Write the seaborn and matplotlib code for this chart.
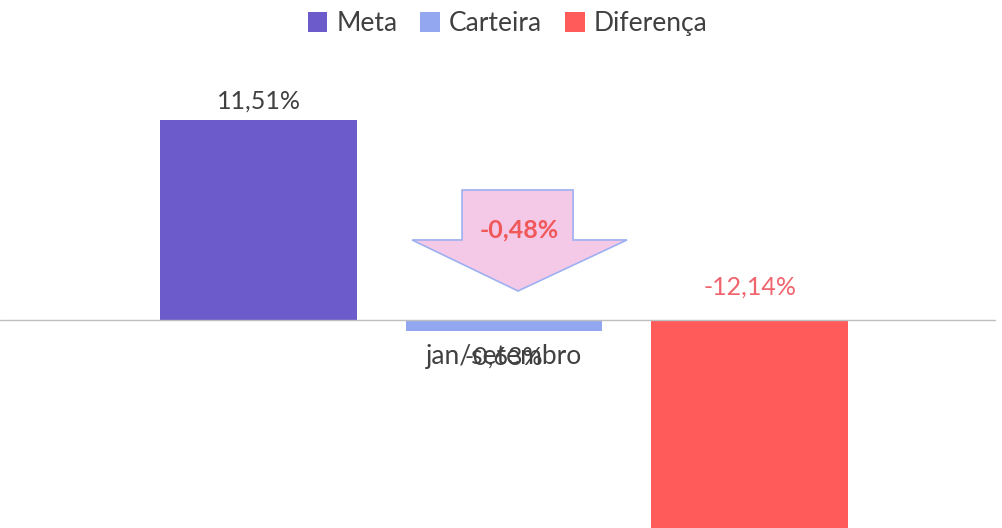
import matplotlib
matplotlib.use("Agg")
import matplotlib.pyplot as plt
import seaborn as sns
import pandas as pd
from matplotlib.patches import Polygon, Patch

# data
categories = ["jan/setembro"]
series = ["Meta", "Carteira", "Diferença"]
values = [11.51, -0.63, -12.14]
labels = ["11,51%", "-0,63%", "-12,14%"]
delta_label = "-0,48%"
colors = ["#6B5BCB", "#93A7F0", "#FF5B5B"]

df = pd.DataFrame({"periodo": categories * len(series), "serie": series, "valor": values})

sns.set_theme(style="white")
plt.rcParams["font.family"] = ["Lato", "DejaVu Sans"]

fig = plt.figure(figsize=(10.03, 5.28), dpi=100)
ax = fig.add_axes([0, 0, 1, 1])

sns.barplot(data=df, x="periodo", y="valor", hue="serie", hue_order=series,
            palette=colors, width=0.8, gap=0.198, ax=ax, legend=False,
            edgecolor="none", saturation=1)

ax.set_xlim(-0.5475, 0.542)
ax.set_ylim(-11.99, 18.44)
for s in ax.spines.values():
    s.set_visible(False)
ax.set_yticks([])
ax.set_xticks([])
ax.set_xlabel("")
ax.set_ylabel("")
ax.axhline(0, xmin=0, xmax=0.992, color="#BFBFBF", lw=1.0, zorder=1)

# category label
ax.text(0, -2.13, categories[0], ha="center", va="center", fontsize=19, color="#404040")

# bar labels
bars = [p for p in ax.patches if p.get_height() != 0]
bars = sorted(bars, key=lambda p: p.get_x())
txt_colors = ["#404040", "#404040", "#F0646E"]
for bar, lab, c, v in zip(bars, labels, txt_colors, values):
    cx = bar.get_x() + bar.get_width() / 2
    if v > 0:
        ax.text(cx, v + 1.1, lab, ha="center", va="center", fontsize=18, color=c)
    elif v < -5:
        ax.text(cx, 1.9, lab, ha="center", va="center", fontsize=18, color=c)
    else:
        ax.text(cx, v - 1.5, lab, ha="center", va="center", fontsize=18, color=c)

# block arrow annotation
arrow = Polygon([(-0.0456, 7.49), (0.0750, 7.49), (0.0750, 4.61), (0.1336, 4.61),
                 (0.0152, 1.67), (-0.0999, 4.61), (-0.0456, 4.61)],
                closed=True, facecolor="#F4C9E8", edgecolor="#9DB0F0", lw=1.2, zorder=3)
ax.add_patch(arrow)
ax.text(0.0163, 5.2, delta_label, ha="center", va="center", fontsize=18,
        fontweight="bold", color="#F0585A", zorder=4)

handles = [Patch(facecolor=c, edgecolor="none") for c in colors]
fig.legend(handles, series, loc="center", bbox_to_anchor=(0.506, 0.955), ncol=3,
           frameon=False, fontsize=19, handlelength=0.75, handleheight=0.75,
           handletextpad=0.35, columnspacing=0.85, labelcolor="#404040")

fig.savefig("out.png", dpi=100)
